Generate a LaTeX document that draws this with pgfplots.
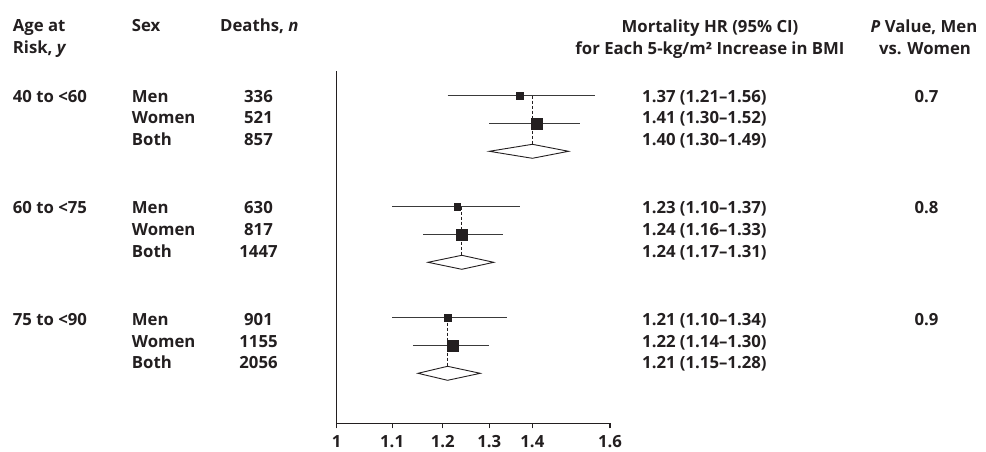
\documentclass[border=0pt]{standalone}
\usepackage{pgfplots}
\pgfplotsset{compat=1.18}
\usepackage{fontspec}
\setmainfont{Open Sans}
\definecolor{ink}{HTML}{231F20}
\definecolor{ciline}{HTML}{3A3A3A}
\tikzset{t/.style={font=\bfseries\fontsize{16.8}{20}\selectfont, text=ink, inner sep=0pt}}
\begin{document}
\begin{tikzpicture}[x=1bp,y=1bp]
\path[use as bounding box] (0,0) rectangle (986,-452);
\begin{axis}[
  at={(336.7bp,-423.3bp)}, anchor=south west,
  scale only axis, width=273.3bp, height=352.6bp,
  xmode=log, xmin=1, xmax=1.6, ymin=-423.3, ymax=-70.7,
  axis x line=bottom, axis y line=left,
  axis line style={-, draw=ink, line width=1.1bp},
  xtick={1,1.1,1.2,1.3,1.4,1.6}, xticklabels={1,1.1,1.2,1.3,1.4,1.6},
  xminorticks=false, yminorticks=false,
  ytick=\empty, tick align=outside, major tick length=5bp,
  tick style={draw=ink, line width=1.1bp},
  xticklabel style={font=\bfseries\fontsize{16.8}{20}\selectfont, text=ink, inner sep=0pt, anchor=north, yshift=-7bp},
  clip=false,
]
% confidence intervals
\addplot[ciline, line width=0.9bp] coordinates {(1.21,-95.7) (1.56,-95.7)};
\addplot[ciline, line width=0.9bp] coordinates {(1.30,-123.5) (1.52,-123.5)};
\addplot[ciline, line width=0.9bp] coordinates {(1.10,-206.7) (1.37,-206.7)};
\addplot[ciline, line width=0.9bp] coordinates {(1.16,-234.5) (1.33,-234.5)};
\addplot[ciline, line width=0.9bp] coordinates {(1.10,-317.7) (1.34,-317.7)};
\addplot[ciline, line width=0.9bp] coordinates {(1.14,-345.5) (1.30,-345.5)};
% dashed guides at pooled estimate
\addplot[ink, line width=0.8bp, dash pattern=on 3bp off 2bp] coordinates {(1.40,-95.7) (1.40,-144.3)};
\addplot[ink, line width=0.8bp, dash pattern=on 3bp off 2bp] coordinates {(1.24,-206.7) (1.24,-255.3)};
\addplot[ink, line width=0.8bp, dash pattern=on 3bp off 2bp] coordinates {(1.21,-317.7) (1.21,-366.3)};
% men squares
\addplot[only marks, mark=square*, mark size=3.4bp, mark options={draw=ink, fill=ink, line width=0.3bp}] coordinates {(1.37,-95.7) (1.23,-206.7) (1.21,-317.7)};
% women squares
\addplot[only marks, mark=square*, mark size=5.6bp, mark options={draw=ink, fill=ink, line width=0.3bp}] coordinates {(1.41,-123.5) (1.24,-234.5) (1.22,-345.5)};
% pooled diamonds
\addplot[draw=ink, fill=white, line width=0.9bp] coordinates {(1.30,-151.3) (1.40,-144.3) (1.49,-151.3) (1.40,-158.3)} -- cycle;
\addplot[draw=ink, fill=white, line width=0.9bp] coordinates {(1.17,-262.3) (1.24,-255.3) (1.31,-262.3) (1.24,-269.3)} -- cycle;
\addplot[draw=ink, fill=white, line width=0.9bp] coordinates {(1.15,-373.3) (1.21,-366.3) (1.28,-373.3) (1.21,-380.3)} -- cycle;
\end{axis}
% headers
\node[t, anchor=base west] at (12.7,-31.7) {Age at};
\node[t, anchor=base west] at (12.7,-54) {Risk, \textit{y}};
\node[t, anchor=base west] at (131.7,-31.7) {Sex};
\node[t, anchor=base west] at (220,-31.7) {Deaths, \textit{n}};
\node[t, anchor=base] at (710,-32.5) {Mortality HR (95\% CI)};
\node[t, anchor=base] at (710,-54.5) {for Each 5-kg/m² Increase in BMI};
\node[t, anchor=base] at (924,-32.5) {\textit{P} Value, Men};
\node[t, anchor=base] at (925,-54.5) {vs. Women};
% group 1
\node[t, anchor=base west] at (12.7,-102.3) {40 to <60};
\node[t, anchor=base west] at (131.7,-102.3) {Men};
\node[t, anchor=base west] at (131.7,-124) {Women};
\node[t, anchor=base west] at (131.7,-145.7) {Both};
\node[t, anchor=base] at (258.5,-102.3) {336};
\node[t, anchor=base] at (258.5,-124) {521};
\node[t, anchor=base] at (258.5,-145.7) {857};
\node[t, anchor=base west] at (642,-102.3) {1.37 (1.21--1.56)};
\node[t, anchor=base west] at (642,-124) {1.41 (1.30--1.52)};
\node[t, anchor=base west] at (642,-145.7) {1.40 (1.30--1.49)};
\node[t, anchor=base] at (926.5,-102.3) {0.7};
% group 2
\node[t, anchor=base west] at (12.7,-213.8) {60 to <75};
\node[t, anchor=base west] at (131.7,-213.8) {Men};
\node[t, anchor=base west] at (131.7,-235.5) {Women};
\node[t, anchor=base west] at (131.7,-257.2) {Both};
\node[t, anchor=base] at (258.5,-213.8) {630};
\node[t, anchor=base] at (258.5,-235.5) {817};
\node[t, anchor=base] at (258.5,-257.2) {1447};
\node[t, anchor=base west] at (642,-213.8) {1.23 (1.10--1.37)};
\node[t, anchor=base west] at (642,-235.5) {1.24 (1.16--1.33)};
\node[t, anchor=base west] at (642,-257.2) {1.24 (1.17--1.31)};
\node[t, anchor=base] at (926.5,-213.8) {0.8};
% group 3
\node[t, anchor=base west] at (12.7,-325.5) {75 to <90};
\node[t, anchor=base west] at (131.7,-325.5) {Men};
\node[t, anchor=base west] at (131.7,-347.2) {Women};
\node[t, anchor=base west] at (131.7,-368.9) {Both};
\node[t, anchor=base] at (258.5,-325.5) {901};
\node[t, anchor=base] at (258.5,-347.2) {1155};
\node[t, anchor=base] at (258.5,-368.9) {2056};
\node[t, anchor=base west] at (642,-325.5) {1.21 (1.10--1.34)};
\node[t, anchor=base west] at (642,-347.2) {1.22 (1.14--1.30)};
\node[t, anchor=base west] at (642,-368.9) {1.21 (1.15--1.28)};
\node[t, anchor=base] at (926.5,-325.5) {0.9};
\end{tikzpicture}
\end{document}
